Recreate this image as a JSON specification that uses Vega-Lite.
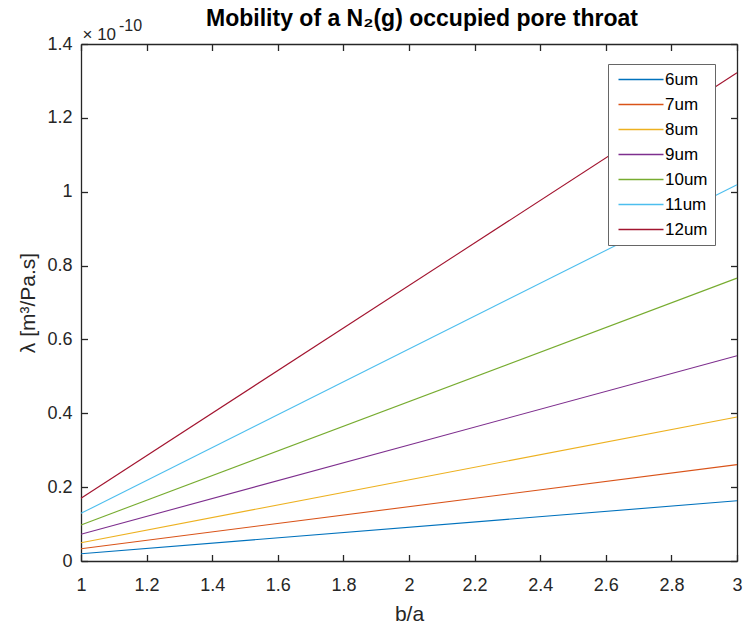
{
  "$schema": "https://vega.github.io/schema/vega-lite/v6.json",
  "width": 656,
  "height": 517,
  "autosize": {"type": "none"},
  "padding": {"left": 81, "top": 44, "right": 6, "bottom": 66},
  "background": "white",
  "config": {
    "font": "Liberation Sans",
    "view": {"stroke": null},
    "axis": {
      "grid": false,
      "domainColor": "#262626",
      "tickColor": "#262626",
      "domainWidth": 1.3,
      "tickWidth": 1.3,
      "tickSize": -6.5,
      "labelColor": "#262626",
      "titleColor": "#262626",
      "labelFont": "Liberation Sans",
      "labelFontSize": 18,
      "titleFont": "Liberation Sans",
      "titleFontSize": 21,
      "titleFontWeight": "normal"
    }
  },
  "title": {
    "text": "Mobility of a N₂(g) occupied pore throat",
    "font": "Liberation Sans",
    "fontSize": 23,
    "fontWeight": "bold",
    "color": "black",
    "anchor": "middle",
    "frame": "group",
    "dx": 13,
    "offset": -31,
    "baseline": "alphabetic"
  },
  "data": {
    "values": [
      {"ba": 1, "lam": 0.0198, "d": "6um"},
      {"ba": 3, "lam": 0.163, "d": "6um"},
      {"ba": 1, "lam": 0.0333, "d": "7um"},
      {"ba": 3, "lam": 0.261, "d": "7um"},
      {"ba": 1, "lam": 0.0496, "d": "8um"},
      {"ba": 3, "lam": 0.390, "d": "8um"},
      {"ba": 1, "lam": 0.0724, "d": "9um"},
      {"ba": 3, "lam": 0.556, "d": "9um"},
      {"ba": 1, "lam": 0.0976, "d": "10um"},
      {"ba": 3, "lam": 0.766, "d": "10um"},
      {"ba": 1, "lam": 0.129, "d": "11um"},
      {"ba": 3, "lam": 1.019, "d": "11um"},
      {"ba": 1, "lam": 0.170, "d": "12um"},
      {"ba": 3, "lam": 1.322, "d": "12um"}
    ]
  },
  "layer": [
    {
      "mark": {"type": "line", "strokeWidth": 1.1},
      "encoding": {
        "x": {
          "field": "ba", "type": "quantitative",
          "scale": {"domain": [1, 3], "nice": false, "zero": false},
          "axis": {"orient": "bottom", "title": "b/a", "values": [1, 1.2, 1.4, 1.6, 1.8, 2, 2.2, 2.4, 2.6, 2.8, 3], "format": "~g", "labelPadding": 21.5, "titlePadding": 9, "labelFlush": false}
        },
        "y": {
          "field": "lam", "type": "quantitative",
          "scale": {"domain": [0, 1.4], "nice": false, "zero": false},
          "axis": {"orient": "left", "title": "λ [m³/Pa.s]", "values": [0, 0.2, 0.4, 0.6, 0.8, 1, 1.2, 1.4], "format": "~g", "labelPadding": 15.5, "titlePadding": 8, "labelFlush": false}
        },
        "color": {
          "field": "d", "type": "nominal",
          "scale": {
            "domain": ["6um", "7um", "8um", "9um", "10um", "11um", "12um"],
            "range": ["#0072BD", "#D95319", "#EDB120", "#7E2F8E", "#77AC30", "#4DBEEE", "#A2142F"]
          },
          "legend": {
            "orient": "none",
            "legendX": 527,
            "legendY": 20,
            "title": null,
            "padding": 7,
            "rowPadding": 7,
            "labelFont": "Liberation Sans",
            "labelFontSize": 17,
            "labelColor": "black",
            "symbolType": "M-1,0H8",
            "symbolSize": 100,
            "symbolStrokeWidth": 1.3,
            "labelOffset": 33,
            "strokeColor": "#666666",
            "fillColor": "white"
          }
        }
      }
    },
    {
      "mark": {"type": "line", "opacity": 0},
      "encoding": {
        "x": {
          "field": "ba", "type": "quantitative",
          "axis": {"orient": "top", "title": null, "labels": false, "values": [1, 1.2, 1.4, 1.6, 1.8, 2, 2.2, 2.4, 2.6, 2.8, 3]}
        },
        "y": {
          "field": "lam", "type": "quantitative",
          "axis": {"orient": "right", "title": null, "labels": false, "values": [0, 0.2, 0.4, 0.6, 0.8, 1, 1.2, 1.4]}
        },
        "detail": {"field": "d"}
      }
    },
    {
      "data": {"values": [{"t": "× 10"}]},
      "mark": {"type": "text", "align": "left", "baseline": "alphabetic", "fontSize": 17, "font": "Liberation Sans", "color": "#262626", "dx": 1.5, "dy": -4.5},
      "encoding": {
        "text": {"field": "t"},
        "x": {"datum": 1, "type": "quantitative", "axis": null},
        "y": {"datum": 1.4, "type": "quantitative", "axis": null}
      }
    },
    {
      "data": {"values": [{"t": "-10"}]},
      "mark": {"type": "text", "align": "left", "baseline": "alphabetic", "fontSize": 16, "font": "Liberation Sans", "color": "#262626", "dx": 38, "dy": -13},
      "encoding": {
        "text": {"field": "t"},
        "x": {"datum": 1, "type": "quantitative", "axis": null},
        "y": {"datum": 1.4, "type": "quantitative", "axis": null}
      }
    }
  ],
  "resolve": {"axis": {"x": "independent", "y": "independent"}}
}
